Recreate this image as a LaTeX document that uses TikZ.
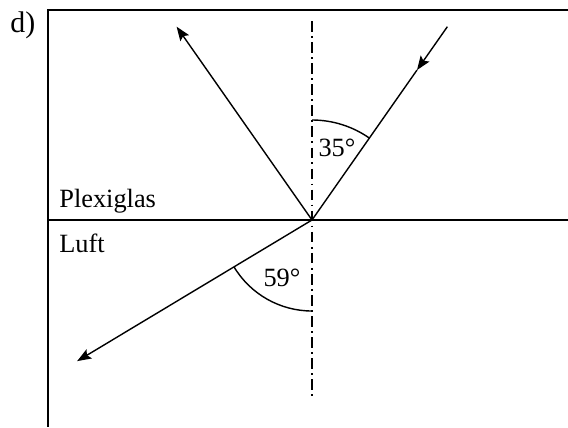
\documentclass[tikz,border=0pt]{standalone}
\usepackage{fontspec}
\setmainfont{Liberation Serif}
\usetikzlibrary{arrows.meta, calc, positioning}

\begin{document}
\begin{tikzpicture}[
		x=0.02cm, y=0.02cm,
		frame/.style={line width=1.1pt},
		ray/.style={line width=0.8pt},
		arr/.style={-{Stealth[length=8pt, width=6pt, inset=1.5pt]}},
		normal/.style={line width=0.8pt, dash pattern=on 6pt off 2.5pt on 1pt off 2.5pt},
		lbl/.style={font=\fontsize{15}{18}\selectfont, inner sep=0pt}
		]
		\useasboundingbox (0,0) rectangle (568,427);
		% frame and interface
		\coordinate (tl) at (48,417);
		\coordinate (tr) at (568,417);
		\coordinate (bl) at (48,0);
		\coordinate (il) at (48,207);
		\coordinate (ir) at (568,207);
		\coordinate (O) at (312,207);
		\draw[frame] (tr) -- (tl) -- (bl);
		\draw[ray] (il) -- (ir);
		% normal
		\coordinate (ntop) at (312,406);
		\coordinate (nbot) at (312,31);
		\draw[normal] (ntop) -- (nbot);
		% rays
		\coordinate (inc) at ($(O)+(55:236)$);
		\coordinate (incmid) at ($(O)+(55:183)$);
		\coordinate (refl) at ($(O)+(125:236)$);
		\coordinate (refr) at ($(O)+(211:274)$);
		\draw[ray, arr] (inc) -- (incmid);
		\draw[ray] (incmid) -- (O);
		\draw[ray, arr] (O) -- (refl);
		\draw[ray, arr] (O) -- (refr);
		% angles
		\draw[ray] ($(O)+(90:100)$) arc[start angle=90, end angle=55, radius=100];
		\draw[ray] ($(O)+(211:91)$) arc[start angle=211, end angle=270, radius=91];
		\node[lbl] (a35) at (337,279) {35°};
		\node[lbl] (a59) at (282,149) {59°};
		% labels
		\node[lbl, anchor=base west] (plexi) at (59,220) {Plexiglas};
		\node[lbl, anchor=base west] (luft) at (59,175) {Luft};
		\node[lbl, anchor=base west, font=\fontsize{17}{20}\selectfont] (d) at (10,395) {d)};
\end{tikzpicture}
\end{document}
